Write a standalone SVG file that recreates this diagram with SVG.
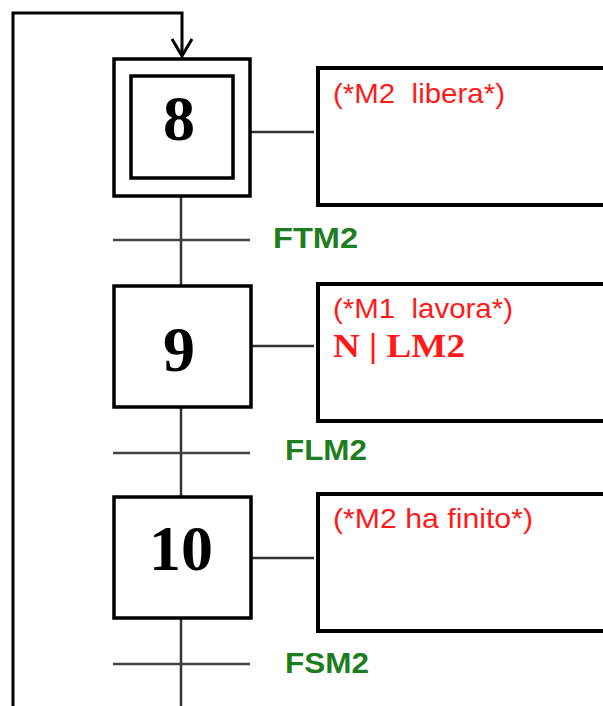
<svg xmlns="http://www.w3.org/2000/svg" width="603" height="706" viewBox="0 0 603 706">
<style>
.step{fill:#fff;stroke:#000;stroke-width:3.5}
.act{fill:#fff;stroke:#000;stroke-width:4}
.num{font-family:"Liberation Serif","Times New Roman",serif;font-weight:bold;font-size:64px;fill:#000;text-anchor:middle}
.cmt{font-family:"Liberation Sans",Arial,sans-serif;font-size:28px;fill:#ff1a1a}
.actn{font-family:"Liberation Serif","Times New Roman",serif;font-weight:bold;font-size:34px;fill:#ff1a1a}
.cond{font-family:"Liberation Sans",Arial,sans-serif;font-weight:bold;font-size:29px;fill:#1e7d1e}
.link{stroke:#333;stroke-width:2.5;fill:none}
.tr{stroke:#444;stroke-width:2.5}
.loop{stroke:#000;stroke-width:3;fill:none}
</style>
<rect width="603" height="706" fill="#fff"/>
<g id="connectors">
<polyline class="loop" points="13,706 13,13 182,13 182,56"/>
<polyline class="loop" points="172,39 182,56 192,39"/>
<line class="link" x1="181" y1="196" x2="181" y2="285"/>
<line class="link" x1="181" y1="407" x2="181" y2="497"/>
<line class="link" x1="181" y1="618" x2="181" y2="706"/>
<line class="link" x1="250" y1="132" x2="314" y2="132"/>
<line class="link" x1="251" y1="346" x2="314" y2="346"/>
<line class="link" x1="251" y1="558" x2="314" y2="558"/>
</g>
<g id="step8">
<rect class="step" x="114" y="59" width="136" height="137"/>
<rect class="step" x="131" y="76" width="102" height="102"/>
<text class="num" x="179" y="140">8</text>
</g>
<g id="step9">
<rect class="step" x="114" y="286" width="137" height="121"/>
<text class="num" x="179" y="371">9</text>
</g>
<g id="step10">
<rect class="step" x="114" y="497" width="137" height="121"/>
<text class="num" x="181" y="570">10</text>
</g>
<g id="action8">
<rect class="act" x="318" y="68" width="300" height="137"/>
<text class="cmt" x="333" y="103" textLength="172" lengthAdjust="spacingAndGlyphs">(*M2&#160; libera*)</text>
</g>
<g id="action9">
<rect class="act" x="318" y="284" width="300" height="137"/>
<text class="cmt" x="333" y="318" textLength="180" lengthAdjust="spacingAndGlyphs">(*M1&#160; lavora*)</text>
<text class="actn" x="333" y="357" textLength="132" lengthAdjust="spacingAndGlyphs">N | LM2</text>
</g>
<g id="action10">
<rect class="act" x="318" y="494" width="300" height="137"/>
<text class="cmt" x="333" y="528" textLength="200" lengthAdjust="spacingAndGlyphs">(*M2 ha finito*)</text>
</g>
<g id="transition1">
<line class="tr" x1="113" y1="240" x2="250" y2="240"/>
<text class="cond" x="273" y="248" textLength="85" lengthAdjust="spacingAndGlyphs">FTM2</text>
</g>
<g id="transition2">
<line class="tr" x1="113" y1="453" x2="250" y2="453"/>
<text class="cond" x="285" y="460" textLength="82" lengthAdjust="spacingAndGlyphs">FLM2</text>
</g>
<g id="transition3">
<line class="tr" x1="113" y1="664" x2="250" y2="664"/>
<text class="cond" x="285" y="673" textLength="84" lengthAdjust="spacingAndGlyphs">FSM2</text>
</g>
</svg>
